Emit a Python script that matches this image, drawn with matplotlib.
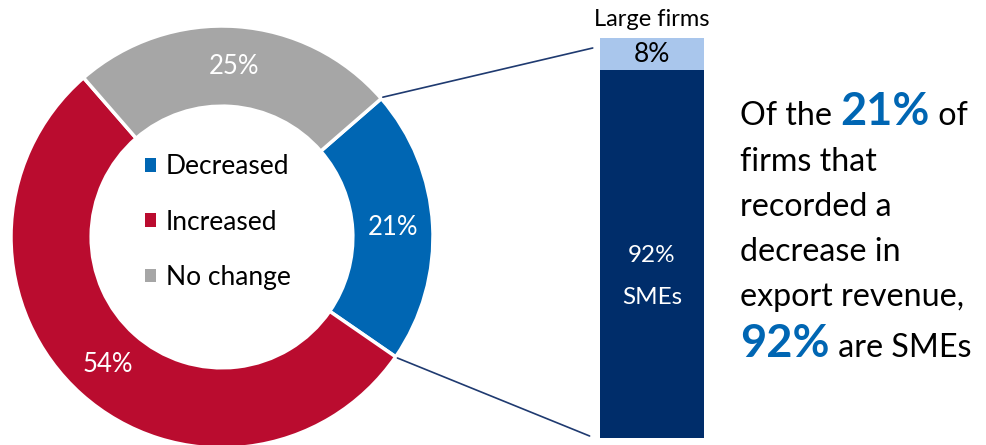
import matplotlib.pyplot as plt
from matplotlib.patches import ConnectionPatch
import numpy as np

plt.rcParams['font.family'] = ['Lato', 'DejaVu Sans']

# donut data
categories = ["Decreased", "Increased", "No change"]
shares = [21, 54, 25]
colours = ["#0066B3", "#BA0C2F", "#A6A6A6"]

# breakdown of the decreased group
split_labels = ["SMEs", "Large firms"]
split_values = [92, 8]
split_colours = ["#002D6A", "#A9C6EC"]

W, H = 987, 445
fig = plt.figure(figsize=(W / 100, H / 100), dpi=100)

#Donut
cx, cy, R = 222, 237, 211
ax_pie = fig.add_axes([(cx - R) / W, (H - cy - R) / H, 2 * R / W, 2 * R / H])
wedges, texts, autotexts = ax_pie.pie(
    shares, colors=colours, startangle=41, counterclock=False, radius=1,
    autopct=lambda p: "%d%%" % round(p), pctdistance=0.81,
    wedgeprops=dict(width=0.38, edgecolor='white', linewidth=2.5),
    textprops=dict(color='white', fontsize=18.5))
ax_pie.set_xlim(-1, 1)
ax_pie.set_ylim(-1, 1)
ax_pie.axis('off')

leg = ax_pie.legend(wedges, categories, loc='center', bbox_to_anchor=(0.49, 0.535),
                    frameon=False, fontsize=19, handlelength=0.42, handleheight=0.42,
                    handletextpad=0.35, labelspacing=1.15, borderpad=0)
for h in leg.legend_handles:
    h.set_edgecolor('none')

#Stacked bar
bx0, bx1, by0, by1 = 600, 704, 38, 438
ax_bar = fig.add_axes([bx0 / W, (H - by1) / H, (bx1 - bx0) / W, (by1 - by0) / H])
bottom = 0
for lab, val, col in zip(split_labels, split_values, split_colours):
    ax_bar.bar([0], [val], bottom=bottom, width=1, color=col)
    bottom += val
ax_bar.set_xlim(-0.5, 0.5)
ax_bar.set_ylim(0, 100)
ax_bar.axis('off')
ax_bar.text(0, 96, "%d%%" % split_values[1], ha='center', va='center', fontsize=19, color='black')
ax_bar.text(0, 104.6, split_labels[1], ha='center', va='center', fontsize=17, color='black', clip_on=False)
ax_bar.text(0, 45.5, "%d%%" % split_values[0], ha='center', va='center', fontsize=17.5, color='white')
ax_bar.text(0, 35, split_labels[0], ha='center', va='center', fontsize=17.5, color='white')

# connector lines from the decreased wedge to the bar
w = wedges[0]
for ang, yb, xb in [(w.theta2, 97.5, -0.57), (w.theta1, 0.5, -0.6)]:
    a = np.radians(ang)
    con = ConnectionPatch(xyA=(1.01 * np.cos(a), 1.01 * np.sin(a)), coordsA=ax_pie.transData,
                          xyB=(xb, yb), coordsB=ax_bar.transData,
                          color="#1F3A70", linewidth=1.2)
    fig.add_artist(con)

#Callout text
ax_txt = fig.add_axes([0, 0, 1, 1])
ax_txt.set_xlim(0, W)
ax_txt.set_ylim(H, 0)
ax_txt.axis('off')
blue = "#0066B3"
lines = [
    [("Of the ", False), ("%d%%" % shares[0], True), (" of", False)],
    [("firms that", False)],
    [("recorded a", False)],
    [("decrease in", False)],
    [("export revenue,", False)],
    [("%d%%" % split_values[0], True), (" are SMEs", False)],
]
baselines = [125, 171, 216, 261, 306, 357]
renderer = fig.canvas.get_renderer()
for parts, yb in zip(lines, baselines):
    x = 740
    for s, bold in parts:
        if bold:
            t = ax_txt.text(x, yb, s, fontsize=32.5, fontweight='bold', color=blue, va='baseline')
        else:
            t = ax_txt.text(x, yb, s, fontsize=23.2, color='black', va='baseline')
        bb = t.get_window_extent(renderer)
        x += bb.width

fig.savefig("out.png", dpi=100)
